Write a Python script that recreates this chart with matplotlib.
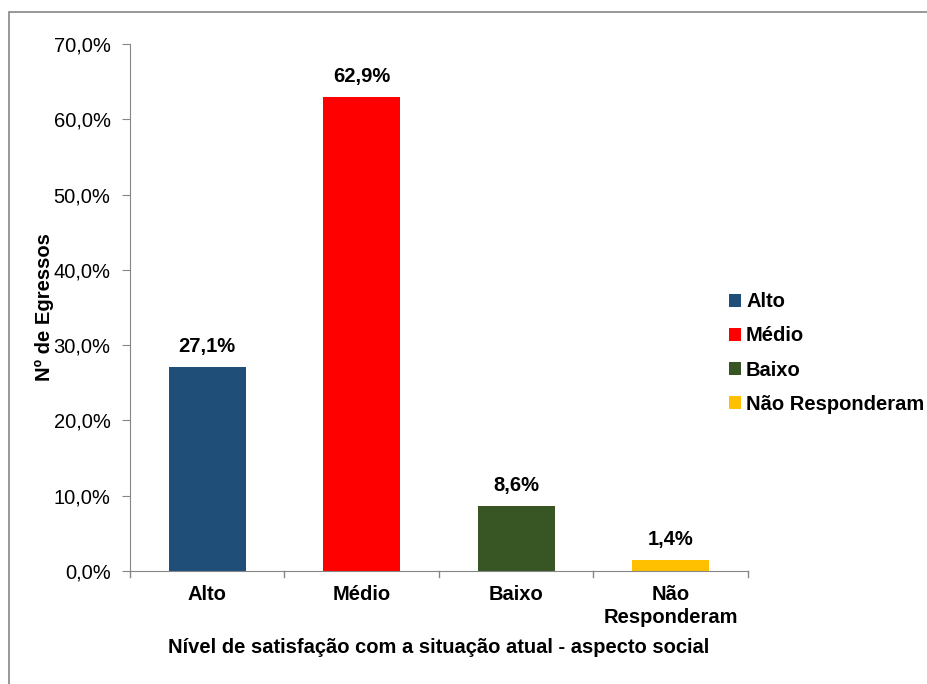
import matplotlib.pyplot as plt
from matplotlib.patches import Rectangle, Patch
from matplotlib.ticker import FuncFormatter

plt.rcParams['font.family'] = ['Liberation Sans', 'DejaVu Sans']

categories = ["Alto", "Médio", "Baixo", "Não\nResponderam"]
legend_labels = ["Alto", "Médio", "Baixo", "Não Responderam"]
values = [27.1, 62.9, 8.6, 1.4]
colors = ["#1F4E79", "#FF0000", "#375623", "#FFC000"]

FS = 14.5

fig = plt.figure(figsize=(9.28, 6.84), dpi=100)
ax = fig.add_axes([130 / 928, 1 - 571 / 684, 618 / 928, 527 / 684])

# outer chart frame (right edge falls outside the picture)
fig.add_artist(Rectangle((9 / 928, -0.01), 1.1, 1 - 12 / 684 + 0.01,
                         transform=fig.transFigure, fill=False,
                         edgecolor="#868686", linewidth=1.2))

x = range(len(values))
ax.bar(x, values, width=0.5, color=colors)
for xi, v in zip(x, values):
    ax.text(xi, v + 1.5, f"{v:.1f}%".replace(".", ","), ha="center",
            va="bottom", fontsize=FS, fontweight="bold")

ax.set_xlim(-0.5, 3.5)
ax.set_ylim(0, 70)
ax.set_yticks(range(0, 71, 10))
ax.yaxis.set_major_formatter(FuncFormatter(lambda v, p: f"{v:.1f}%".replace(".", ",")))
ax.set_xticks(list(x))
ax.set_xticklabels(categories, fontweight="bold", fontsize=FS, linespacing=1.25)
ax.tick_params(axis="x", length=0, pad=10)
ax.tick_params(axis="y", labelsize=FS, length=6, color="#868686", pad=8)
# category separators on the x axis
for b in [-0.5, 0.5, 1.5, 2.5, 3.5]:
    ax.plot([b, b], [0, -0.012], transform=ax.get_xaxis_transform(),
            color="#868686", lw=1, clip_on=False)

for side in ["top", "right"]:
    ax.spines[side].set_visible(False)
ax.spines["left"].set_color("#868686")
ax.spines["bottom"].set_color("#868686")

ax.set_ylabel("Nº de Egressos", fontweight="bold", fontsize=FS, labelpad=0)
ax.set_xlabel("Nível de satisfação com a situação atual - aspecto social",
              fontweight="bold", fontsize=FS, labelpad=8)

handles = [Patch(facecolor=c) for c in colors]
fig.legend(handles, legend_labels, loc="center left",
           bbox_to_anchor=(729 / 928, 1 - 353 / 684), frameon=False,
           borderpad=0, borderaxespad=0,
           prop={"weight": "bold", "size": FS}, handlelength=0.6,
           handleheight=0.6, handletextpad=0.25, labelspacing=0.75)

fig.savefig("out.png", dpi=100)
